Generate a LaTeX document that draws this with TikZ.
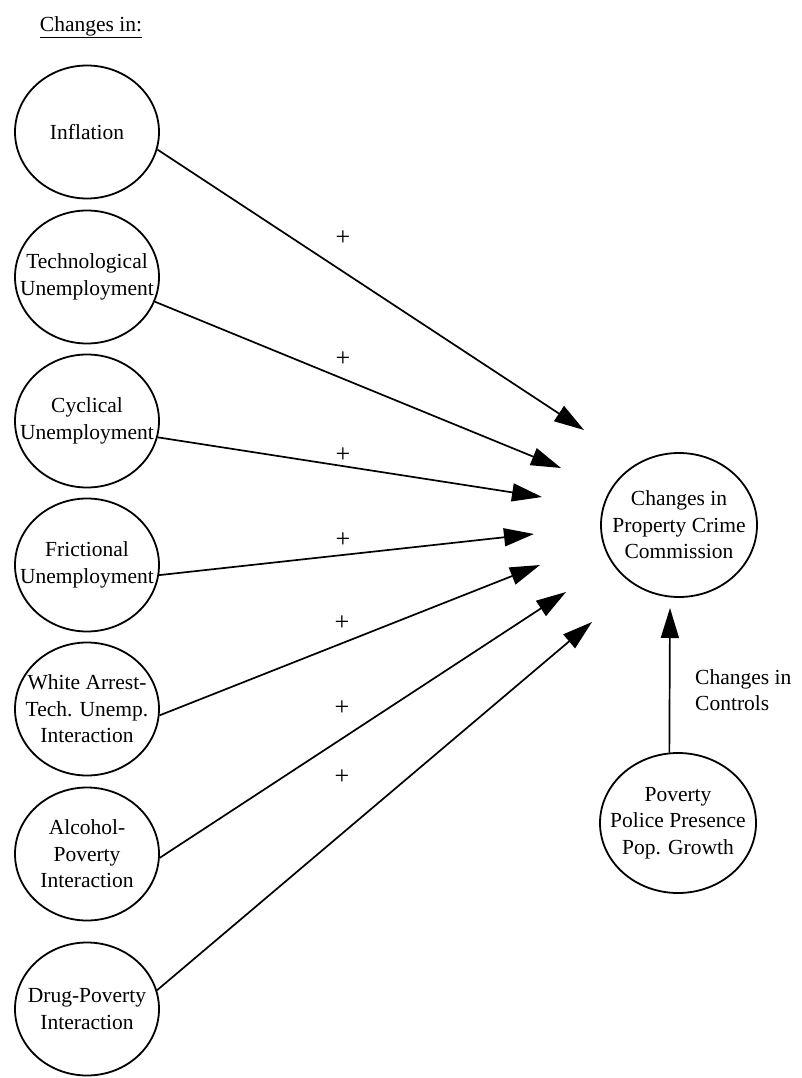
\documentclass[tikz,border=0pt]{standalone}
\usepackage{fontspec}
\setmainfont{Liberation Serif}
\usetikzlibrary{shapes.geometric,arrows.meta}
\tikzset{
  factor/.style={ellipse,draw,line width=1.8pt,minimum width=144pt,minimum height=133pt,inner sep=-40pt,align=center,font=\fontsize{21.5}{26.5}\selectfont},
  bigfactor/.style={factor,minimum width=156pt,minimum height=144pt},
  link/.style={line width=1.7pt,-{Triangle[length=30pt,width=18pt]}},
  plus/.style={font=\fontsize{26}{30}\selectfont,inner sep=0pt},
  txt/.style={font=\fontsize{21.5}{26.5}\selectfont,inner sep=0pt,align=left}
}
\begin{document}
\begin{tikzpicture}[x=1pt,y=-1pt]
\useasboundingbox (0,0) rectangle (801,1078);
\node[txt] (title) at (91,27) {\underline{Changes in:}};
\node[factor] (inf) at (87,132) {Inflation};
\node[factor] (tech) at (87,277) {Technological\\Unemployment};
\node[factor] (cyc) at (87,421) {Cyclical\\Unemployment};
\node[factor] (fric) at (87,565) {Frictional\\Unemployment};
\node[factor] (white) at (87,709) {White Arrest-\\Tech. Unemp.\\Interaction};
\node[factor] (alc) at (87,854) {Alcohol-\\Poverty\\Interaction};
\node[factor] (drug) at (87,1009) {Drug-Poverty\\Interaction};
\node[bigfactor] (crime) at (679,525) {Changes in\\Property Crime\\Commission};
\node[bigfactor,minimum height=140pt] (pov) at (678,823) {Poverty\\Police Presence\\Pop. Growth};
\coordinate (t1) at (584,430);
\coordinate (t2) at (561,468);
\coordinate (t3) at (542,497);
\coordinate (t4) at (534,534);
\coordinate (t5) at (540,565);
\coordinate (t6) at (566,592);
\coordinate (t7) at (592,622);
\coordinate (tc) at (670,608);
\draw[link] (inf.-14) -- (t1);
\draw[link] (tech.-20) -- (t2);
\draw[link] (cyc.-13) -- (t3);
\draw[link] (fric.-8) -- (t4);
\draw[link] (white.-5) -- (t5);
\draw[link] (alc.-3) -- (t6);
\draw[link] (drug.15) -- (t7);
\draw[link] (pov.97) -- (tc);
\node[plus] (p1) at (343,238) {+};
\node[plus] (p2) at (343,359) {+};
\node[plus] (p3) at (343,455) {+};
\node[plus] (p4) at (343,540) {+};
\node[plus] (p5) at (342,623) {+};
\node[plus] (p6) at (342,708) {+};
\node[plus] (p7) at (342,777) {+};
\node[txt,anchor=west] (ctrl) at (695,690) {Changes in\\Controls};
\end{tikzpicture}
\end{document}
